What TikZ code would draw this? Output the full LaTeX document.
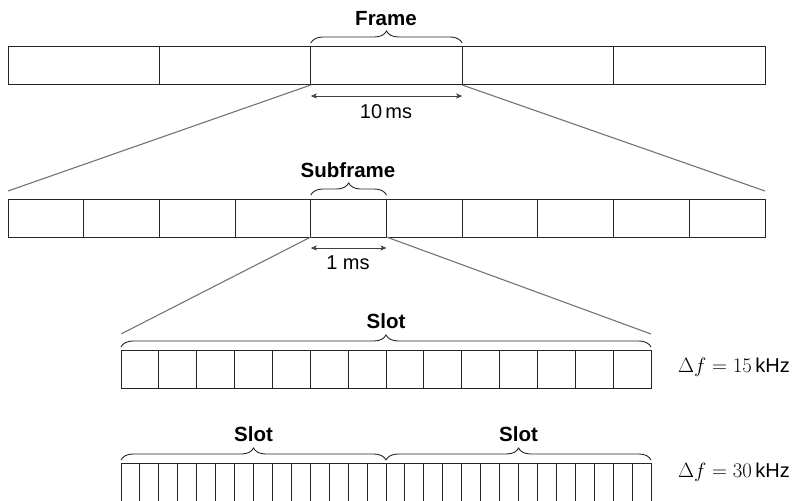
\documentclass[tikz,border=0pt]{standalone}
\usepackage[no-math]{fontspec}
\setmainfont{Liberation Sans}
\usetikzlibrary{calc,arrows.meta,decorations.pathreplacing}

\tikzset{
	cell/.style={draw=black!85, line width=1pt, minimum height=38pt, inner sep=0pt, outer sep=0pt, anchor=north west},
	zoomline/.style={draw=black!55, line width=1.1pt},
	span/.style={draw=black!85, line width=0.9pt, decorate, decoration={brace, amplitude=12pt}},
	measure/.style={draw=black!75, line width=0.9pt, {Stealth[length=6pt,width=5pt,inset=1.5pt]}-{Stealth[length=6pt,width=5pt,inset=1.5pt]}},
	title/.style={font=\fontsize{20.5}{24}\selectfont\bfseries, inner sep=0pt},
	label/.style={font=\fontsize{20}{24}\selectfont, inner sep=0pt},
}

\begin{document}
\begin{tikzpicture}[x=1pt, y=-1pt]
		%%%%% START %%%%%
		\useasboundingbox (0,0) rectangle (799,500);
		\clip (0,0) rectangle (799,500);
		
		% frames
		\foreach \i in {0,...,4}
			\node[cell, minimum width=151.4pt] (frm\i) at ({8+151.4*\i},47) {};
		
		% subframes
		\foreach \i in {0,...,9}
			\node[cell, minimum width=75.7pt] (sub\i) at ({8+75.7*\i},199) {};
		
		% slot, 15 kHz
		\foreach \i in {0,...,13}
			\node[cell, minimum width=37.857pt] (sym\i) at ({121+37.857*\i},350) {};
		
		% two slots, 30 kHz
		\foreach \i in {0,...,27}
			\node[cell, minimum width=18.929pt] (half\i) at ({121+18.929*\i},463) {};
		
		% zoom lines
		\draw[zoomline] (frm2.south west) -- ($(sub0.north west)+(0,-8)$);
		\draw[zoomline] (frm2.south east) -- ($(sub9.north east)+(0,-8)$);
		\draw[zoomline] (sub4.south west) -- ($(sym0.north west)+(0,-16)$);
		\draw[zoomline] (sub4.south east) -- ($(sym13.north east)+(0,-16)$);
		
		% braces and titles
		\draw[span] ([yshift=4pt]frm2.north west) -- ([yshift=4pt]frm2.north east);
		\node[title] (frametxt) at (386,19) {Frame};
		
		\draw[span] ([yshift=4pt]sub4.north west) -- ([yshift=4pt]sub4.north east);
		\node[title] (subtxt) at (348,170) {Subframe};
		
		\draw[span] ([yshift=3pt]sym0.north west) -- ([yshift=3pt]sym13.north east);
		\node[title] (slottxt) at (386,321) {Slot};
		
		\draw[span] ([yshift=3pt]half0.north west) -- ([yshift=3pt]half13.north east);
		\draw[span] ([yshift=3pt]half14.north west) -- ([yshift=3pt]half27.north east);
		\node[title] (slotatxt) at (253.5,434) {Slot};
		\node[title] (slotbtxt) at (518.5,434) {Slot};
		
		% durations
		\draw[measure] ([yshift=-11pt]frm2.south west) -- ([yshift=-11pt]frm2.south east);
		\node[label] (tenms) at (386,112) {10\,ms};
		
		\draw[measure] ([yshift=-11pt]sub4.south west) -- ([yshift=-11pt]sub4.south east);
		\node[label] (onems) at (348,263) {1 ms};
		
		% spacings
		\node[label, anchor=base west] (dfa) at (678,372) {$\Delta f = 15\,$kHz};
		\node[label, anchor=base west] (dfb) at (678,477) {$\Delta f = 30\,$kHz};
		
		%%%%% END %%%%%
	\end{tikzpicture}
\end{document}
